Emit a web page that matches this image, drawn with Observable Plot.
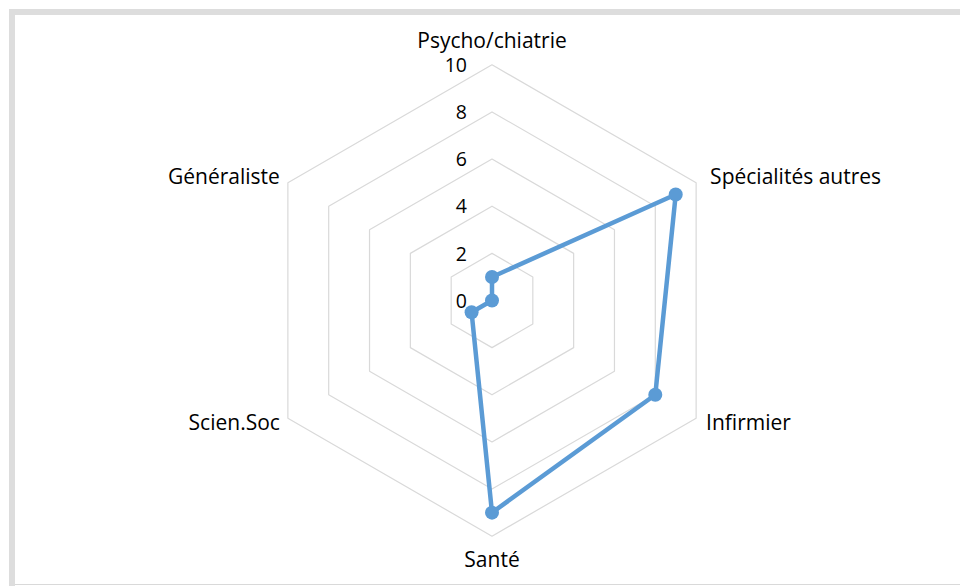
<!DOCTYPE html>
<html>
<head>
<meta charset="utf-8">
<script src="https://cdn.jsdelivr.net/npm/d3@7"></script>
<script src="https://cdn.jsdelivr.net/npm/@observablehq/plot@0.6"></script>
<style>
  html, body { margin: 0; padding: 0; background: #fff; }
  #wrap { position: relative; width: 960px; height: 586px; overflow: hidden; }
  .bar { position: absolute; background: #dddddd; }
</style>
</head>
<body>
<div id="wrap">
  <div id="chart"></div>
  <div class="bar" style="left:9px;top:9px;width:951px;height:6px;"></div>
  <div class="bar" style="left:9px;top:9px;width:6px;height:577px;"></div>
  <div class="bar" style="left:15px;top:584px;width:945px;height:1px;background:#d9d9d9;"></div>
</div>
<script>
const categories = ["Psycho/chiatrie", "Spécialités autres", "Infirmier", "Santé", "Scien.Soc", "Généraliste"];
const values = [1, 9, 8, 9, 1, 0];
const ticks = [0, 2, 4, 6, 8, 10];
const maxValue = 10;

const W = 960, H = 586;
const cx = 491.5, cy = 300, unit = 23.57;

const n = categories.length;
const ang = i => (i * 2 * Math.PI) / n;
const px = (i, r) => r * Math.sin(ang(i));
const py = (i, r) => r * Math.cos(ang(i));

// rings
const rings = [];
ticks.filter(t => t > 0).forEach(t => {
  for (let i = 0; i <= n; i++) rings.push({ring: t, x: px(i % n, t), y: py(i % n, t)});
});

// series
const series = values.map((v, i) => ({cat: categories[i], x: px(i, v), y: py(i, v)}));
const seriesClosed = [...series, series[0]];

// labels
const labels = categories.map((c, i) => ({cat: c, i, x: px(i, maxValue), y: py(i, maxValue)}));

const font = "'Open Sans', 'Noto Sans', sans-serif";
const fs = 21;

const chart = Plot.plot({
  width: W,
  height: H,
  margin: 0,
  x: {domain: [-cx / unit, (W - cx) / unit], range: [0, W], axis: null},
  y: {domain: [-(H - cy) / unit, cy / unit], range: [H, 0], axis: null},
  style: {fontFamily: font, fontSize: "20px", background: "transparent", color: "#000"},
  marks: [
    Plot.line(rings, {x: "x", y: "y", z: "ring", stroke: "#d9d9d9", strokeWidth: 1.2}),
    Plot.line(seriesClosed, {x: "x", y: "y", stroke: "#5b9bd5", strokeWidth: 4.5, strokeLinejoin: "round"}),
    Plot.dot(series, {x: "x", y: "y", r: 7, fill: "#5b9bd5"}),
    Plot.text(ticks, {x: () => 0, y: d => d, text: d => String(d), textAnchor: "end", dx: -25, dy: 1, fill: "#000", fontSize: 19.5}),
    // top label
    Plot.text(labels.filter(d => d.i === 0), {x: "x", y: "y", text: "cat", dy: -24, textAnchor: "middle", fill: "#000", fontSize: fs}),
    // bottom label
    Plot.text(labels.filter(d => d.i === 3), {x: "x", y: "y", text: "cat", dy: 24, textAnchor: "middle", fill: "#000", fontSize: fs}),
    // right labels
    Plot.text(labels.filter(d => d.i === 1), {x: "x", y: "y", text: "cat", dx: 14, dy: -5, textAnchor: "start", fill: "#000", fontSize: fs}),
    Plot.text(labels.filter(d => d.i === 2), {x: "x", y: "y", text: "cat", dx: 10, dy: 5, textAnchor: "start", fill: "#000", fontSize: fs}),
    // left labels
    Plot.text(labels.filter(d => d.i === 4), {x: "x", y: "y", text: "cat", dx: -8, dy: 5, textAnchor: "end", fill: "#000", fontSize: fs}),
    Plot.text(labels.filter(d => d.i === 5), {x: "x", y: "y", text: "cat", dx: -8, dy: -5, textAnchor: "end", fill: "#000", fontSize: fs})
  ]
});
document.getElementById("chart").appendChild(chart);
</script>
</body>
</html>
